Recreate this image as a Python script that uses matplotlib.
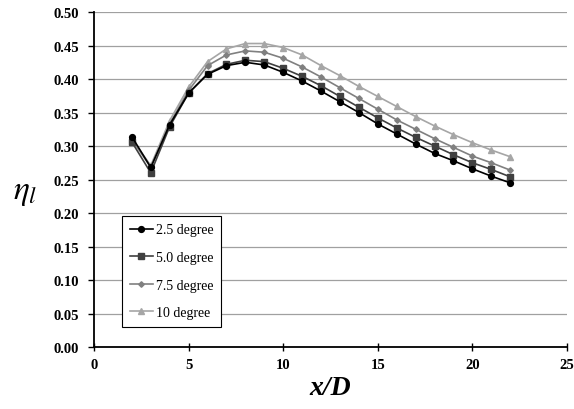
import matplotlib
matplotlib.use("Agg")
import matplotlib.pyplot as plt

plt.rcParams['font.family'] = ['Liberation Serif', 'DejaVu Serif']
plt.rcParams['mathtext.fontset'] = 'stix'

# x/D positions
x_d = [2, 3, 4, 5, 6, 7, 8, 9, 10, 11, 12, 13, 14, 15, 16, 17, 18, 19, 20, 21, 22]

# eta_l for each injection angle
eta_25 = [0.314, 0.268, 0.332, 0.379, 0.407, 0.420, 0.425, 0.421, 0.410, 0.397, 0.382,
          0.366, 0.350, 0.333, 0.318, 0.303, 0.289, 0.278, 0.266, 0.255, 0.245]
eta_50 = [0.306, 0.260, 0.329, 0.379, 0.408, 0.422, 0.428, 0.426, 0.416, 0.404, 0.390,
          0.374, 0.358, 0.342, 0.327, 0.313, 0.300, 0.287, 0.275, 0.265, 0.254]
eta_75 = [0.310, 0.268, 0.333, 0.383, 0.420, 0.436, 0.442, 0.440, 0.431, 0.418, 0.403,
          0.387, 0.371, 0.355, 0.339, 0.325, 0.311, 0.298, 0.285, 0.275, 0.264]
eta_10 = [0.310, 0.271, 0.338, 0.388, 0.426, 0.445, 0.453, 0.453, 0.447, 0.436, 0.420,
          0.405, 0.389, 0.374, 0.359, 0.344, 0.330, 0.317, 0.305, 0.294, 0.284]

labels = ["2.5 degree", "5.0 degree", "7.5 degree", "10 degree"]

fig = plt.figure(figsize=(5.74, 4.10), dpi=100)
ax = fig.add_axes([0.1638, 0.1512, 0.824, 0.817])

ax.plot(x_d, eta_25, color="#000000", marker="o", markersize=4.2, linewidth=1.2, label=labels[0], zorder=6)
ax.plot(x_d, eta_50, color="#404040", marker="s", markersize=4.5, linewidth=1.2, label=labels[1], zorder=5)
ax.plot(x_d, eta_75, color="#808080", marker="D", markersize=2.8, linewidth=1.2, label=labels[2], zorder=4)
ax.plot(x_d, eta_10, color="#a6a6a6", marker="^", markersize=4, linewidth=1.2, label=labels[3], zorder=3)

ax.set_xlim(0, 25)
ax.set_ylim(0, 0.5)
ax.set_xticks(range(0, 26, 5))
ax.set_yticks([i * 0.05 for i in range(11)])
ax.set_yticklabels([f"{i * 0.05:.2f}" for i in range(11)])

ax.yaxis.grid(True, color="#a0a0a0", linewidth=0.9)
ax.set_axisbelow(True)
for side in ["top", "right"]:
    ax.spines[side].set_visible(False)
for side in ["left", "bottom"]:
    ax.spines[side].set_linewidth(1.3)
    ax.spines[side].set_color("black")

ax.tick_params(axis="y", direction="out", length=4, width=1, labelsize=10.5, pad=7)
ax.tick_params(axis="x", direction="inout", length=6, width=1, labelsize=10.5, pad=5)
for lab in ax.get_xticklabels() + ax.get_yticklabels():
    lab.set_fontweight("bold")

ax.set_xlabel("x/D", fontsize=20, fontweight="bold", style="italic", labelpad=3)
ax.text(-0.145, 0.463, r"$\eta_l$", fontsize=24, transform=ax.transAxes,
        ha="center", va="center")

leg = ax.legend(loc="lower left", bbox_to_anchor=(0.053, 0.052), fontsize=10,
                frameon=True, fancybox=False, edgecolor="black", framealpha=1,
                handlelength=1.7, handletextpad=0.2, labelspacing=1.05,
                borderpad=0.55, borderaxespad=0.2)
leg.get_frame().set_linewidth(0.8)

fig.savefig("out.png", dpi=100)
